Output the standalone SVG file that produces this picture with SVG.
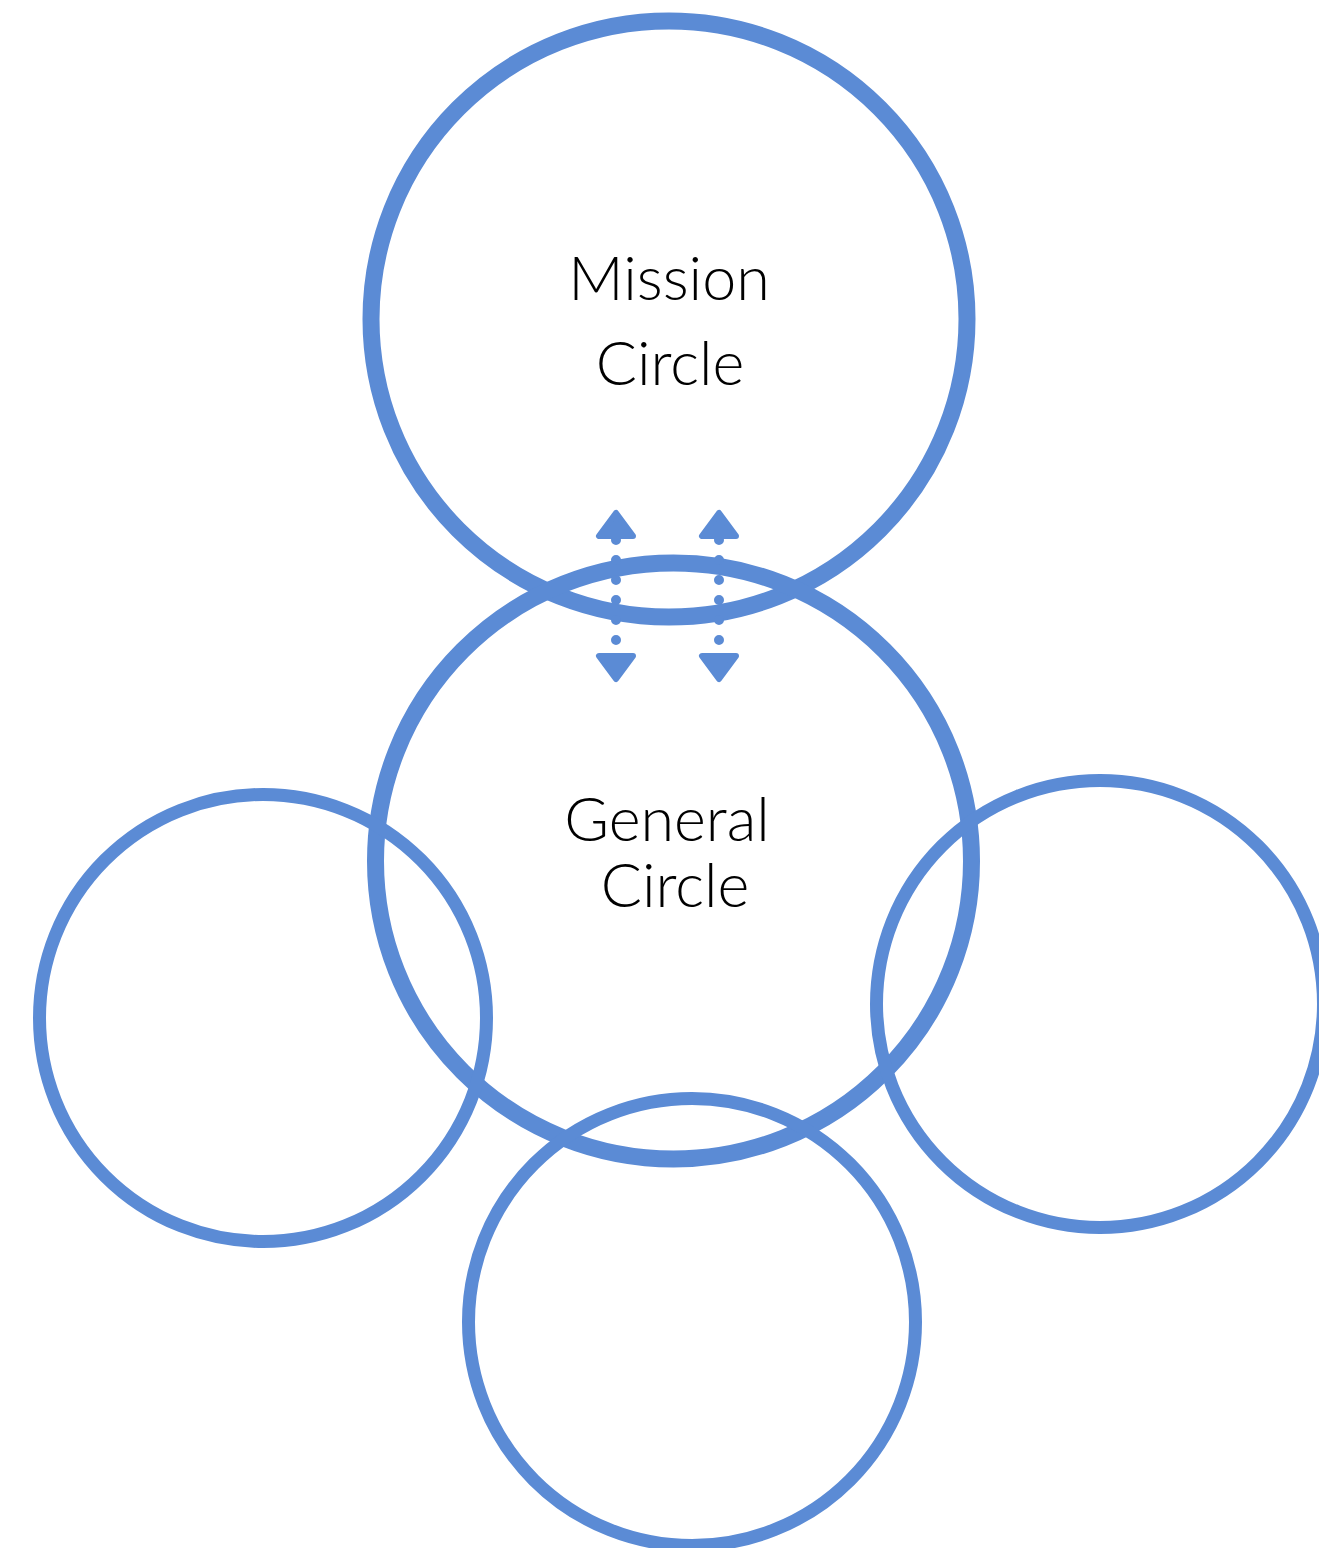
<svg xmlns="http://www.w3.org/2000/svg" width="1319" height="1548" viewBox="0 0 1319 1548">
<style>
.c{fill:none;stroke:#5b8bd5}
.big{stroke-width:17}
.small{stroke-width:13}
.t{font-family:Lato,"Open Sans",sans-serif;font-size:61px;font-weight:300;fill:#000;text-anchor:middle}
.dl{stroke:#5b8bd5;stroke-width:10;stroke-linecap:round;stroke-dasharray:0 20;fill:none}
.ah{fill:#5b8bd5;stroke:#5b8bd5;stroke-width:6;stroke-linejoin:round}
</style>
<rect width="1319" height="1548" fill="#fff"/>
<g id="mission"><circle class="c big" cx="669" cy="319" r="298"/><text class="t" x="669" y="300">Mission</text><text class="t" x="670" y="385">Circle</text></g>
<g id="general"><circle class="c big" cx="673.5" cy="861" r="298"/><text class="t" x="667" y="841">General</text><text class="t" x="675" y="907">Circle</text></g>
<g id="left"><circle class="c small" cx="263" cy="1018" r="223.5"/></g>
<g id="right"><circle class="c small" cx="1100" cy="1004" r="223.5"/></g>
<g id="bottom"><circle class="c small" cx="692" cy="1322" r="223.5"/></g>
<g id="connectors">
<line class="dl" x1="616" y1="540" x2="616" y2="641"/>
<line class="dl" x1="719" y1="540" x2="719" y2="641"/>
<polygon class="ah" points="616,513 599,536 633,536"/>
<polygon class="ah" points="719,513 702,536 736,536"/>
<polygon class="ah" points="616,679 599,656 633,656"/>
<polygon class="ah" points="719,679 702,656 736,656"/>
</g>
</svg>
